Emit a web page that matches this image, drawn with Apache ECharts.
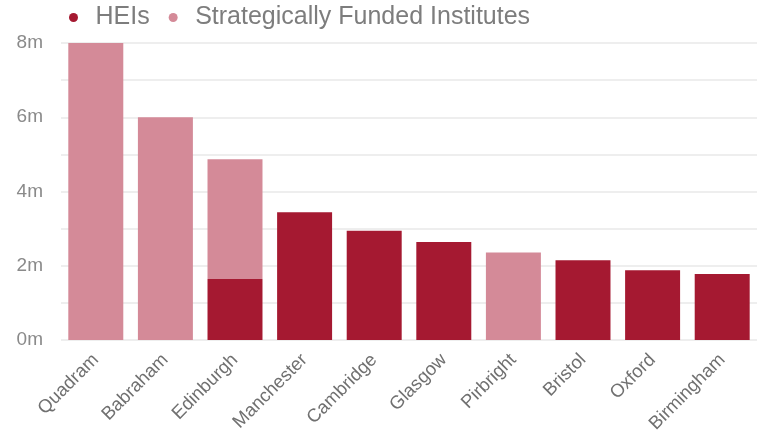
<!DOCTYPE html>
<html>
<head>
<meta charset="utf-8">
<script src="https://cdn.jsdelivr.net/npm/echarts@6/dist/echarts.min.js"></script>
<style>html,body{margin:0;padding:0;background:#fff}#c{width:775px;height:430px}</style>
</head>
<body>
<div id="c"></div>
<script>
const categories = ['Quadram','Babraham','Edinburgh','Manchester','Cambridge','Glasgow','Pirbright','Bristol','Oxford','Birmingham'];
const heiValues = [0, 0, 1.64, 3.44, 2.94, 2.64, 0, 2.15, 1.88, 1.78];
const sfiValues = [8.0, 6.0, 3.23, 0, 0, 0, 2.36, 0, 0, 0];
const seriesNames = ['HEIs', 'Strategically Funded Institutes'];

const chart = echarts.init(document.getElementById('c'), null, {renderer: 'canvas'});
const font = '"Liberation Sans", Arial, sans-serif';
chart.setOption({
  animation: false,
  textStyle: {fontFamily: font},
  legend: {
    left: 69, top: 5, padding: 0,
    icon: 'circle', itemWidth: 34, itemHeight: 9, itemGap: 19,
    textStyle: {fontSize: 25, color: '#7d7d7d', fontFamily: font},
    data: seriesNames
  },
  grid: {left: 61, right: 18, top: 43, bottom: 90, outerBoundsMode: 'none', containLabel: false},
  xAxis: {
    type: 'category', data: categories,
    axisLine: {show: false}, axisTick: {show: false},
    axisLabel: {rotate: 45, fontSize: 18.5, color: '#707070', margin: 17, interval: 0, fontFamily: font}
  },
  yAxis: {
    type: 'value', min: 0, max: 8, interval: 1,
    axisLine: {show: false}, axisTick: {show: false},
    splitLine: {lineStyle: {color: '#e8e8e8', width: 1.5}},
    axisLabel: {fontSize: 19, color: '#8a8a8a', margin: 18, fontFamily: font,
      formatter: v => (v % 2 === 0 ? v + 'm' : '')}
  },
  series: [
    {name: seriesNames[0], type: 'bar', stack: 't', data: heiValues, barCategoryGap: '21%',
     itemStyle: {color: '#a51931'}},
    {name: seriesNames[1], type: 'bar', stack: 't', data: sfiValues, barCategoryGap: '21%',
     itemStyle: {color: '#d48a98'}}
  ]
});
</script>
</body>
</html>
